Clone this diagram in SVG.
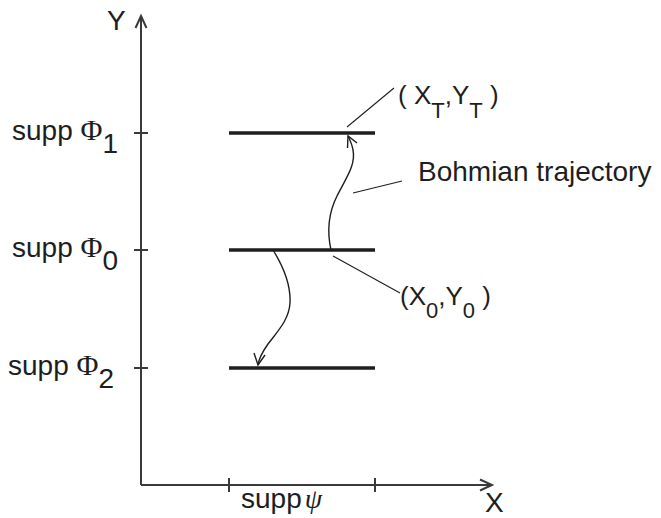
<svg xmlns="http://www.w3.org/2000/svg" width="661" height="518" viewBox="0 0 661 518">
<style>
.ax{stroke:#3a3a3a;stroke-width:2;fill:none}
.bar{stroke:#1e1e1e;stroke-width:3.5;fill:none}
.thin{stroke:#1e1e1e;stroke-width:1.4;fill:none}
.lead{stroke:#1e1e1e;stroke-width:1.1;fill:none}
text{font-family:"Liberation Sans",Arial,sans-serif;font-size:28px;fill:#1e1e1e}
.ser{font-family:"Liberation Serif","Times New Roman",serif;font-size:30px}
.it{font-family:"Liberation Serif","Times New Roman",serif;font-style:italic}
.lbl{font-size:26px}
.sub{font-size:22px}
</style>
<rect width="661" height="518" fill="#fff"/>
<g id="axes">
<path class="ax" d="M141,485 V16 M141,485 H492"/>
<path class="ax" d="M135.5,28 L141,16 L146.5,28 M480,479.5 L492,485 L480,490.5"/>
<path class="ax" d="M134,133 H148 M134,250 H148 M134,368 H148 M229,478 V492 M375,478 V492"/>
<text x="107" y="30">Y</text>
<text x="485" y="512">X</text>
<text x="241" y="508">supp<tspan class="it" dx="3">ψ</tspan></text>
</g>
<g id="level1">
<path class="bar" d="M229,133 H375"/>
<text x="12" y="140">supp <tspan class="ser">Φ</tspan><tspan dy="13">1</tspan></text>
</g>
<g id="level0">
<path class="bar" d="M229,250 H375"/>
<text x="12" y="257">supp <tspan class="ser">Φ</tspan><tspan dy="13">0</tspan></text>
</g>
<g id="level2">
<path class="bar" d="M229,368 H375"/>
<text x="8" y="375">supp <tspan class="ser">Φ</tspan><tspan dy="13">2</tspan></text>
</g>
<g id="labels">
<text class="lbl" x="398" y="104">( X<tspan class="sub" dy="14">T</tspan><tspan dy="-14">,Y</tspan><tspan class="sub" dy="14">T</tspan><tspan dy="-14"> )</tspan></text>
<text x="418" y="181">Bohmian trajectory</text>
<text class="lbl" x="400" y="305">(X<tspan class="sub" dy="13">0</tspan><tspan dy="-13">,Y</tspan><tspan class="sub" dy="13">0</tspan><tspan dy="-13"> )</tspan></text>
</g>
<g id="connectors">
<path class="thin" d="M331,250 C327,232 328,214 337,196 C346,178 356,165 353,150 C352,144 350,140 348,136"/>
<path class="thin" d="M347.5,148 L348,136 L357,143"/>
<path class="thin" d="M273,250 C283,266 291,283 290,303 C289,320 277,332 268,344 C263,351 259,358 258,365"/>
<path class="thin" d="M254,353 L258,365 L265,355"/>
<path class="lead" d="M347,127 L394,88"/>
<path class="lead" d="M353,193 L402,181"/>
<path class="lead" d="M333,256 L400,293"/>
</g>
</svg>
